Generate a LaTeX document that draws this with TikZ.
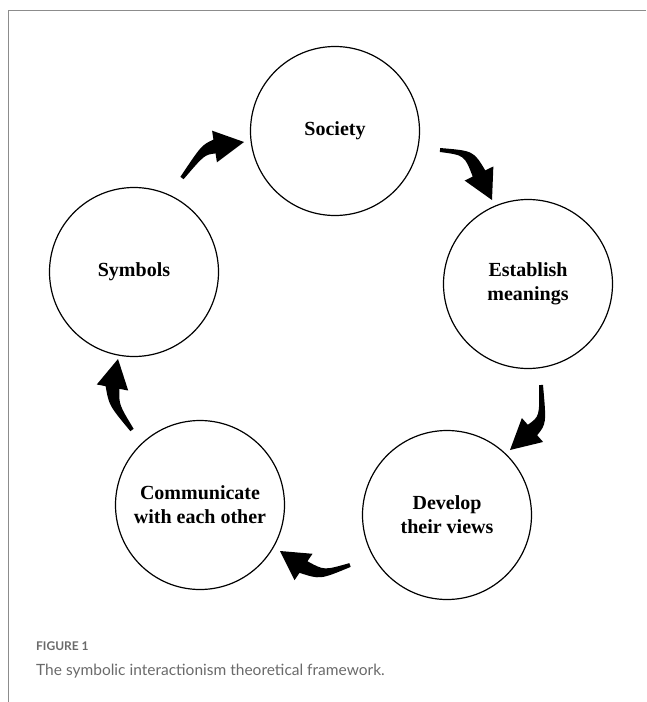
\documentclass[tikz,border=0pt]{standalone}
\usepackage{fontspec}
\setmainfont{Liberation Serif}
\newfontfamily\capfont{Lato}
\usetikzlibrary{calc}
\definecolor{framegray}{HTML}{8C8C8C}
\definecolor{captext}{HTML}{6A6A6A}

% tapered bent arrow: tail, bend, head base, tip
\newcommand{\bentarrow}[4]{%
  \fill ($(#1)!2pt!90:(#2)$) .. controls ($(#2)!5pt!90:(#3)$) .. ($(#3)!7pt!90:(#4)$)
    -- ($(#3)!16pt!90:(#4)$) -- (#4) -- ($(#3)!16pt!-90:(#4)$)
    -- ($(#3)!7pt!-90:(#4)$) .. controls ($(#2)!5pt!-90:(#3)$) .. ($(#1)!2pt!-90:(#2)$) -- cycle;}

\begin{document}
\begin{tikzpicture}[x=1pt, y=-1pt,
  stage/.style={draw, line width=1.2pt, circle, minimum size=169pt, inner sep=0pt, align=center, font=\fontsize{20}{24}\selectfont\bfseries},
  captxt/.style={anchor=base west, inner sep=0pt, text=captext}
]
\useasboundingbox (0,0) rectangle (646,702);
\draw[framegray, line width=0.9pt] (646,10) -- (8,10) -- (8,702);

\node[stage] (society) at (335,131) {Society};
\node[stage] (meanings) at (528,284) {Establish\\meanings};
\node[stage] (views) at (447,515) {Develop\\their views};
\node[stage] (communicate) at (200,505) {Communicate\\with each other};
\node[stage] (symbols) at (134,272) {Symbols};

% arrow points: tail, bend, head base, tip
\coordinate (a1t) at (182,178); \coordinate (a1c) at (203,150); \coordinate (a1b) at (214.5,146.5); \coordinate (a1p) at (244,142);
\coordinate (a2t) at (440,150); \coordinate (a2c) at (469,153); \coordinate (a2b) at (479,173.5); \coordinate (a2p) at (492,200);
\coordinate (a3t) at (541,385); \coordinate (a3c) at (543,420); \coordinate (a3b) at (532.5,430); \coordinate (a3p) at (510,450);
\coordinate (a4t) at (350,565); \coordinate (a4c) at (322,575); \coordinate (a4b) at (303.5,567); \coordinate (a4p) at (280,551);
\coordinate (a5t) at (132,430); \coordinate (a5c) at (114,405); \coordinate (a5b) at (112.5,387.5); \coordinate (a5p) at (118,359);

\bentarrow{a1t}{a1c}{a1b}{a1p}
\bentarrow{a2t}{a2c}{a2b}{a2p}
\bentarrow{a3t}{a3c}{a3b}{a3p}
\bentarrow{a4t}{a4c}{a4b}{a4p}
\bentarrow{a5t}{a5c}{a5b}{a5p}

\node[captxt, font=\capfont\bfseries\fontsize{12}{14}\selectfont] (fig) at (36,650) {FIGURE 1};
\node[captxt, font=\capfont\fontsize{15.5}{18}\selectfont] (title) at (36,675) {The symbolic interactionism theoretical framework.};
\end{tikzpicture}
\end{document}
